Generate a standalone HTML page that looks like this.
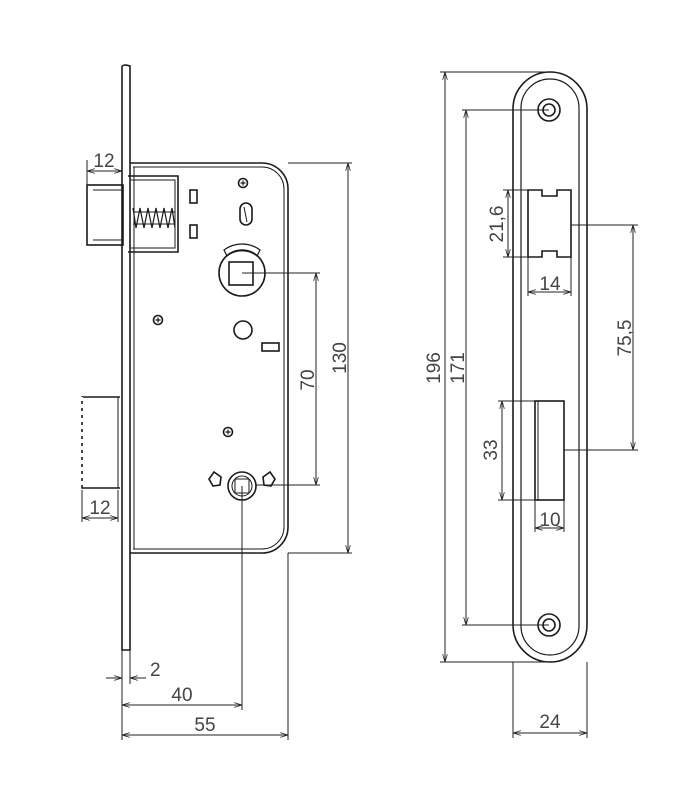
<!DOCTYPE html>
<html><head><meta charset="utf-8"><style>html,body{margin:0;padding:0;background:#fff}svg{display:block}</style></head>
<body>
<svg width="684" height="790" viewBox="0 0 684 790" xmlns="http://www.w3.org/2000/svg">
<defs>
<marker id="a" viewBox="0 0 10 6" refX="10" refY="3" markerWidth="8" markerHeight="5" orient="auto-start-reverse"><path d="M0,0 L10,3 L0,6" fill="none" stroke="#222" stroke-width="1"/></marker>
</defs>
<g fill="none" stroke="#1a1a1a" stroke-width="1.6">
<path d="M122,650 L122,67 Q122,65 126,65 L130,66 L130,650 Z"/>
<path d="M130,163 L262,163 A26,26 0 0 1 288,189 L288,527 A26,26 0 0 1 262,553 L130,553"/>
<path d="M133,167 L262,167 A22,22 0 0 1 284,189 L284,527 A22,22 0 0 1 262,549 L133,549" stroke-width="1"/>
<line x1="134" y1="167" x2="134" y2="549" stroke-width="1"/>
<rect x="87" y="185" width="36" height="60"/>
<path d="M93,190 L122,190 M93,240 L122,240" stroke-width="1"/>
<path d="M128,176 L178,176 L178,252 L128,252" />
<path d="M131,180 L175,180 L175,248 L131,248" stroke-width="1"/>
<path d="M133,208 L136,228 L140,208 L144,228 L148,208 L152,228 L156,208 L160,228 L164,208 L168,228 L172,208 L175,228" stroke-width="1.2"/>
<path d="M133,212 L175,212 M133,224 L175,224" stroke-width="1"/>
<rect x="190" y="190" width="7" height="13"/>
<rect x="190" y="225" width="7" height="13"/>
<circle cx="243" cy="183" r="4.5"/>
<path d="M240.5,183 h5 M243,180.5 v5" stroke-width="1.2"/>
<rect x="240" y="203" width="12" height="22" rx="6"/>
<line x1="244" y1="207" x2="247" y2="222" stroke-width="1"/>
<circle cx="242" cy="273" r="23"/>
<rect x="229" y="262" width="24" height="23"/>
<path d="M224,250 A30,30 0 0 1 260,250 L257,256 A24,24 0 0 0 227,256 Z" stroke-width="1.2"/>
<circle cx="158" cy="320" r="4.5"/>
<path d="M155.5,320 h5 M158,317.5 v5" stroke-width="1.2"/>
<circle cx="243" cy="330" r="9"/>
<rect x="262" y="343" width="17" height="8"/>
<circle cx="228" cy="432" r="4.5"/>
<path d="M225.5,432 h5 M228,429.5 v5" stroke-width="1.2"/>
<circle cx="242" cy="486" r="14"/>
<circle cx="242" cy="486" r="10" stroke-width="1"/>
<rect x="235" y="479" width="14" height="14" stroke-width="1"/>
<path d="M214,472 L221,477 L220,485 L213,486 L209,479 Z"/>
<path d="M270,472 L263,477 L264,485 L271,486 L275,479 Z"/>
<path d="M120,397 L82,397 L82,488 L120,488" />
<line x1="82" y1="397" x2="82" y2="488" stroke="#fff" stroke-width="2" stroke-dasharray="4 3"/>
<line x1="118" y1="397" x2="118" y2="488" stroke-width="1"/>
</g>
<g fill="none" stroke="#222" stroke-width="1">
<line x1="87" y1="160" x2="87" y2="185"/>
<line x1="87" y1="171" x2="122" y2="171" marker-start="url(#a)" marker-end="url(#a)"/>
<line x1="82" y1="490" x2="82" y2="522"/><line x1="118" y1="490" x2="118" y2="522"/>
<line x1="82" y1="518" x2="118" y2="518" marker-start="url(#a)" marker-end="url(#a)"/>
<line x1="288" y1="163" x2="352" y2="163"/><line x1="288" y1="553" x2="352" y2="553"/>
<line x1="348" y1="163" x2="348" y2="553" marker-start="url(#a)" marker-end="url(#a)"/>
<line x1="242" y1="273" x2="320" y2="273"/><line x1="256" y1="485" x2="320" y2="485"/>
<line x1="316" y1="273" x2="316" y2="485" marker-start="url(#a)" marker-end="url(#a)"/>
<line x1="242" y1="486" x2="242" y2="710"/>
<line x1="122" y1="650" x2="122" y2="740"/><line x1="130" y1="650" x2="130" y2="684"/>
<line x1="288" y1="553" x2="288" y2="740"/>
<line x1="106" y1="678" x2="122" y2="678" marker-end="url(#a)"/>
<line x1="146" y1="678" x2="130" y2="678" marker-end="url(#a)"/>
<line x1="122" y1="705" x2="242" y2="705" marker-start="url(#a)" marker-end="url(#a)"/>
<line x1="122" y1="735" x2="288" y2="735" marker-start="url(#a)" marker-end="url(#a)"/>
</g>
<g fill="none" stroke="#1a1a1a" stroke-width="1.6">
<rect x="513" y="72" width="74" height="590" rx="37"/>
<rect x="521" y="79" width="58" height="576" rx="29" stroke-width="1.2"/>
<circle cx="549" cy="110" r="11"/><circle cx="549" cy="110" r="6"/>
<circle cx="549" cy="625" r="11"/><circle cx="549" cy="625" r="6"/>
<path d="M528,190 L542,190 L542,196 L557,196 L557,190 L571,190 L571,257 L557,257 L557,251 L542,251 L542,257 L528,257 Z"/>
<rect x="535" y="401" width="29" height="99"/>
<line x1="538" y1="401" x2="538" y2="500" stroke-width="1"/>
</g>
<g fill="none" stroke="#222" stroke-width="1">
<line x1="440" y1="72" x2="549" y2="72"/><line x1="440" y1="662" x2="549" y2="662"/>
<line x1="445" y1="72" x2="445" y2="662" marker-start="url(#a)" marker-end="url(#a)"/>
<line x1="462" y1="110" x2="549" y2="110"/><line x1="462" y1="625" x2="549" y2="625"/>
<line x1="466" y1="110" x2="466" y2="625" marker-start="url(#a)" marker-end="url(#a)"/>
<line x1="503" y1="190" x2="528" y2="190"/><line x1="503" y1="257" x2="528" y2="257"/>
<line x1="508" y1="190" x2="508" y2="257" marker-start="url(#a)" marker-end="url(#a)"/>
<line x1="528" y1="257" x2="528" y2="296"/><line x1="571" y1="257" x2="571" y2="296"/>
<line x1="528" y1="292" x2="571" y2="292" marker-start="url(#a)" marker-end="url(#a)"/>
<line x1="571" y1="225" x2="638" y2="225"/><line x1="564" y1="450" x2="638" y2="450"/>
<line x1="633" y1="225" x2="633" y2="450" marker-start="url(#a)" marker-end="url(#a)"/>
<line x1="498" y1="401" x2="535" y2="401"/><line x1="498" y1="500" x2="535" y2="500"/>
<line x1="502" y1="401" x2="502" y2="500" marker-start="url(#a)" marker-end="url(#a)"/>
<line x1="535" y1="500" x2="535" y2="532"/><line x1="564" y1="500" x2="564" y2="532"/>
<line x1="535" y1="528" x2="564" y2="528" marker-start="url(#a)" marker-end="url(#a)"/>
<line x1="513" y1="662" x2="513" y2="738"/><line x1="587" y1="662" x2="587" y2="738"/>
<line x1="513" y1="733" x2="587" y2="733" marker-start="url(#a)" marker-end="url(#a)"/>
</g>
<g font-family="Liberation Sans, sans-serif" font-size="19" fill="#444" text-anchor="middle">
<text x="104" y="167">12</text>
<text x="100" y="514">12</text>
<text x="150" y="676" text-anchor="start">2</text>
<text x="182" y="701">40</text>
<text x="205" y="731">55</text>
<text transform="translate(314,380) rotate(-90)">70</text>
<text transform="translate(346,358) rotate(-90)">130</text>
<text transform="translate(440,368) rotate(-90)">196</text>
<text transform="translate(464,368) rotate(-90)">171</text>
<text transform="translate(503,224) rotate(-90)">21,6</text>
<text x="550" y="290">14</text>
<text transform="translate(631,338) rotate(-90)">75,5</text>
<text transform="translate(497,450) rotate(-90)">33</text>
<text x="550" y="526">10</text>
<text x="550" y="728">24</text>
</g>
</svg>
</body></html>
